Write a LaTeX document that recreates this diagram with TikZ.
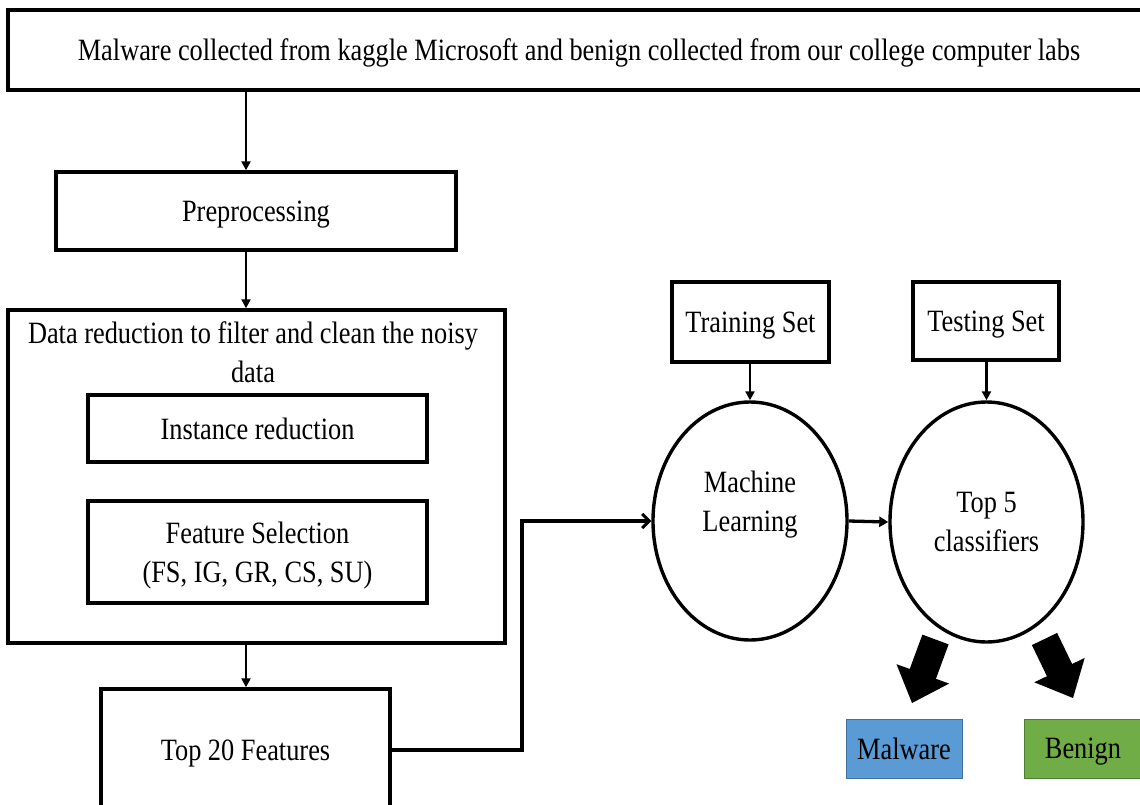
\documentclass[tikz,border=0pt]{standalone}
\usepackage{fontspec}
\setmainfont{Liberation Serif}[FakeStretch=0.85]
\usetikzlibrary{arrows.meta,shapes.geometric}
\newcommand\dfont{\fontsize{31}{39}\selectfont}
\definecolor{mblue}{RGB}{91,155,213}
\definecolor{mblueb}{RGB}{65,113,156}
\definecolor{mgreen}{RGB}{112,173,71}
\definecolor{mgreenb}{RGB}{80,126,50}
\begin{document}
\begin{tikzpicture}[x=1pt,y=-1pt,
  box/.style={draw, line width=3.4pt, rectangle, inner sep=0pt, font=\dfont, align=center, text depth=0pt},
  oval/.style={draw, line width=3.4pt, ellipse, inner sep=0pt, font=\dfont, align=center, text depth=0pt},
  txt/.style={inner sep=0pt, font=\dfont, align=center},
  conn/.style={line width=2.2pt, -{Triangle[length=9pt,width=9pt]}},
  thickconn/.style={line width=3.3pt, -{Triangle[length=9pt,width=10pt]}},
  openconn/.style={line width=3.2pt, -{Straight Barb[length=7pt,width=14pt,line width=3pt]}},
  result/.style={draw, line width=1pt, rectangle, inner sep=0pt, font=\dfont, text depth=0pt, minimum width=116pt, minimum height=59pt},
  blockarrow/.style={fill=black}
]
\useasboundingbox (0,0) rectangle (1140,805);

% nodes
\node[box, minimum width=1142pt, minimum height=80pt] (src) at (579,50)
  {Malware collected from kaggle Microsoft and benign collected from our college computer labs};
\node[box, minimum width=400pt, minimum height=78pt] (pre) at (256,211) {Preprocessing};
\node[box, minimum width=497pt, minimum height=333pt] (dr) at (256.5,476.5) {};
\node[txt] (drtxt) at (253,352) {Data reduction to filter and clean the noisy\\data};
\node[box, minimum width=339pt, minimum height=67pt] (inst) at (257.5,428.5) {Instance reduction};
\node[box, minimum width=339pt, minimum height=102pt] (fs) at (257.5,552) {Feature Selection\\(FS, IG, GR, CS, SU)};
\node[box, minimum width=289pt, minimum height=122pt] (top20) at (245.5,750) {Top 20 Features};

\node[box, minimum width=157pt, minimum height=80pt] (train) at (750.5,322) {Training Set};
\node[box, minimum width=146pt, minimum height=78pt] (test) at (986,321) {Testing Set};
\node[oval, minimum width=194pt, minimum height=238pt] (ml) at (750,521) {};
\node[txt] (mltxt) at (750,505) {Machine\\Learning};
\node[oval, minimum width=193pt, minimum height=240pt] (top5) at (986.5,522) {Top 5\\classifiers};

\node[result, fill=mblue, draw=mblueb] (mal) at (904,748.5) {Malware};
\node[result, fill=mgreen, draw=mgreenb, minimum width=118pt] (ben) at (1083,748.5) {Benign};

% connectors
\coordinate (ax) at (246,0);
\draw[conn] (src.south -| ax) -- (pre.north -| ax);
\draw[conn] (pre.south -| ax) -- (dr.north -| ax);
\draw[conn] (dr.south -| ax) -- (top20.north -| ax);
\coordinate (bend) at (522,0);
\draw[openconn] (top20.east) -- (top20.east -| bend) |- (ml.west);
\draw[thickconn] (ml.east) -- (top5.west);
\draw[conn] (train.south -| ml.north) -- (ml.north);
\draw[conn] (test.south -| top5.north) -- (top5.north);

% block arrows
\fill[blockarrow] (948.6,644.4) -- (935.9,678.8) -- (949.1,683.6) -- (912,703)
  -- (896.5,664.2) -- (909.7,669.0) -- (922.4,634.6) -- cycle;
\fill[blockarrow] (1057.1,632.9) -- (1072.1,664.0) -- (1084.7,657.9) -- (1073,698)
  -- (1034.3,682.3) -- (1046.9,676.2) -- (1031.9,645.1) -- cycle;
\end{tikzpicture}
\end{document}
